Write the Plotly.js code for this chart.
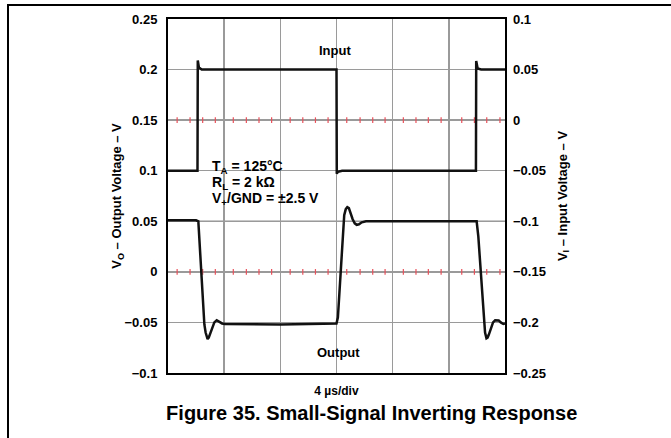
<!DOCTYPE html>
<html><head><meta charset="utf-8">
<script src="https://cdn.plot.ly/plotly-3.0.1.min.js"></script>
<style>
html,body{margin:0;padding:0;background:#fff}
#chart{position:absolute;left:0;top:0;width:671px;height:438px}
#frame{position:absolute;left:7px;top:4px;width:670px;height:440px;border-top:2px solid #000;border-left:2px solid #000;pointer-events:none}
</style>
</head><body>
<div id="chart"></div><div id="frame"></div>
<script>
// Output voltage (left axis, V) vs time (µs)
const timeOutput = [0, 2.0, 2.16, 2.3, 2.45, 2.59, 2.68, 2.76, 2.82, 2.9, 3.0, 3.15, 3.3, 3.47, 3.65, 3.85, 4.06, 8.0, 12.0,
  12.1, 12.3, 12.45, 12.55, 12.66, 12.77, 12.88, 13.0, 13.15, 13.3, 13.44, 13.6, 13.8, 14.1, 18.0, 21.98,
  22.1, 22.25, 22.4, 22.5, 22.58, 22.68, 22.76, 22.85, 23.0, 23.15, 23.3, 23.4, 23.55, 23.7, 23.88, 24];
const vOutput = [0.051, 0.051, 0.05, 0.017, -0.018, -0.052, -0.06, -0.065, -0.0665, -0.065, -0.061, -0.055, -0.05, -0.0478, -0.049, -0.051, -0.0515, -0.052, -0.051,
  -0.045, 0.0, 0.04, 0.056, 0.062, 0.064, 0.063, 0.058, 0.052, 0.048, 0.0465, 0.047, 0.049, 0.05, 0.05, 0.05,
  0.035, 0.005, -0.03, -0.049, -0.06, -0.0657, -0.065, -0.062, -0.055, -0.05, -0.0478, -0.0476, -0.048, -0.05, -0.0515, -0.051];

// Input voltage (right axis, V) vs time (µs)
const timeInput = [0, 2.1, 2.12, 2.2, 2.4, 12.0, 12.02, 12.1, 12.4, 21.93, 21.95, 22.05, 22.3, 24];
const vInput = [-0.05, -0.05, 0.059, 0.052, 0.05, 0.05, -0.053, -0.051, -0.05, -0.05, 0.0585, 0.051, 0.05, 0.05];

// Red graticule tick marks on the centre lines
const markerTimes = [0.65, 1.57, 2.47, 3.37, 4.65, 5.58, 6.48, 7.38, 8.7, 9.6, 10.5, 11.4,
  12.73, 13.68, 14.58, 15.46, 16.76, 17.66, 18.54, 19.45, 20.92, 21.82, 22.7, 23.64];
const markerLevels = [0.15, 0];

const leftTicks = [-0.1, -0.05, 0, 0.05, 0.1, 0.15, 0.2, 0.25];
const rightTicks = [-0.25, -0.2, -0.15, -0.1, -0.05, 0, 0.05, 0.1];

const FAM = '"Liberation Sans", Arial, Helvetica, sans-serif';

const mx = [], my = [];
markerLevels.forEach(l => markerTimes.forEach(t => { mx.push(t); my.push(l); }));

const traces = [
  {x: mx, y: my, type: 'scatter', mode: 'markers', yaxis: 'y', hoverinfo: 'skip',
   marker: {symbol: 'line-ns', size: 4, color: '#e8505a', line: {color: '#e8505a', width: 1.2}}},
  {x: timeOutput, y: vOutput, type: 'scatter', mode: 'lines', yaxis: 'y', name: 'Output',
   line: {color: '#111', width: 2.5}},
  {x: timeInput, y: vInput, type: 'scatter', mode: 'lines', yaxis: 'y2', name: 'Input',
   line: {color: '#111', width: 2.5}}
];

const tickFont = {family: FAM, size: 13, color: '#000', weight: 'bold'};
const titleFont = {family: FAM, size: 13, color: '#000', weight: 'bold'};
const noteFont = {family: FAM, size: 14, color: '#000'};

const layout = {
  width: 671, height: 438,
  margin: {l: 168, r: 166, t: 19, b: 65, pad: 0},
  paper_bgcolor: '#fff', plot_bgcolor: '#fff',
  showlegend: false,
  font: {family: FAM, color: '#000'},
  title: {text: '<b>Figure 35. Small-Signal Inverting Response</b>',
    font: {family: FAM, size: 20, color: '#000'},
    x: 0.554, xanchor: 'center', xref: 'container', y: 1 - 413 / 438, yanchor: 'middle', yref: 'container'},
  xaxis: {range: [0, 24], tick0: 0, dtick: 4, showticklabels: false, ticks: '',
    showgrid: true, gridcolor: '#9a9a9a', gridwidth: 1.5, zeroline: false,
    showline: true, mirror: true, linecolor: '#000', linewidth: 2,
    title: {text: '<b>4 µs/div</b>', font: {family: FAM, size: 12, color: '#000'}, standoff: 13}},
  yaxis: {range: [-0.1, 0.25], tickmode: 'array', tickvals: leftTicks, ticks: '',
    ticklabelstandoff: 6, tickfont: tickFont,
    showgrid: true, gridcolor: '#9a9a9a', gridwidth: 1.5, zeroline: false,
    showline: true, mirror: true, linecolor: '#000', linewidth: 2,
    title: {text: '<b>V<sub>O</sub> – Output Voltage – V</b>', font: titleFont, standoff: 0}},
  yaxis2: {range: [-0.25, 0.1], overlaying: 'y', side: 'right', tickmode: 'array', tickvals: rightTicks, ticks: '',
    ticklabelstandoff: 7, tickfont: tickFont, showgrid: false, zeroline: false,
    showline: false,
    title: {text: '<b>V<sub>I</sub> – Input Voltage – V</b>', font: titleFont, standoff: 12}},
  shapes: [
    {type: 'line', xref: 'x', yref: 'paper', x0: 4, x1: 4, y0: 0, y1: 1, line: {color: '#000', width: 1}, layer: 'below'},
    {type: 'line', xref: 'x', yref: 'paper', x0: 20, x1: 20, y0: 0, y1: 1, line: {color: '#000', width: 1}, layer: 'below'},
    {type: 'line', xref: 'paper', yref: 'y', x0: 0, x1: 1, y0: 0.05, y1: 0.05, line: {color: '#000', width: 1}, layer: 'below'}
  ],
  annotations: [
    {text: '<b>Input</b>', x: 11.87, y: 0.2193, xref: 'x', yref: 'y', showarrow: false, font: {family: FAM, size: 13, color: '#000'}},
    {text: '<b>Output</b>', x: 12.13, y: -0.0797, xref: 'x', yref: 'y', showarrow: false, font: {family: FAM, size: 13, color: '#000'}},
    {text: '<b>T<sub>A</sub> = 125°C</b>', x: 3.0, y: 0.1037, xref: 'x', yref: 'y', xanchor: 'left', showarrow: false, font: noteFont},
    {text: '<b>R<sub>L</sub> = 2 kΩ</b>', x: 3.0, y: 0.0878, xref: 'x', yref: 'y', xanchor: 'left', showarrow: false, font: noteFont},
    {text: '<b>V<sub>+</sub>/GND = ±2.5 V</b>', x: 3.0, y: 0.072, xref: 'x', yref: 'y', xanchor: 'left', showarrow: false, font: noteFont}
  ]
};

Plotly.newPlot('chart', traces, layout, {staticPlot: true, displayModeBar: false});
</script>
</body></html>
